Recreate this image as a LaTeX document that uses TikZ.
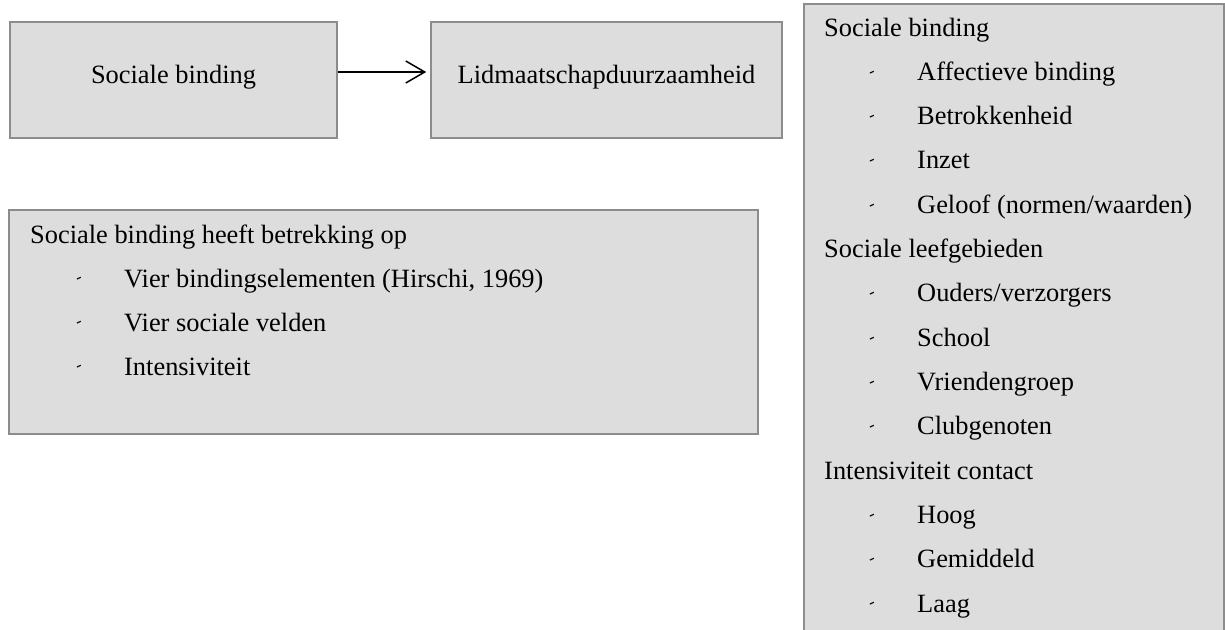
\documentclass[tikz,border=0pt]{standalone}
\usepackage{fontspec}
\setmainfont{Liberation Serif}
\usetikzlibrary{arrows.meta}
\definecolor{boxfill}{HTML}{DDDDDD}
\definecolor{boxline}{HTML}{8C8C8C}
\tikzset{
  box/.style={draw=boxline, fill=boxfill, line width=1.5pt, inner sep=0pt},
  boxtxt/.style={font=\fontsize{26.4}{30}\selectfont, text height=17pt, text depth=11pt},
  txt/.style={anchor=base west, inner sep=0pt, font=\fontsize{26.4}{30}\selectfont},
  bul/.style={anchor=base west, inner sep=0pt, font=\fontsize{17}{20}\selectfont, rotate=25},
  conn/.style={line width=1.5pt, -{Straight Barb[length=19pt,width=22pt,line width=1.5pt]}},
}
\begin{document}
\begin{tikzpicture}[x=1pt,y=-1pt]
\useasboundingbox (0,0) rectangle (1225,629);
\clip (0,0) rectangle (1225,629);
% top boxes
\node[box, boxtxt, minimum width=327pt, minimum height=116pt] (b1) at (173.5,80) {Sociale binding};
\node[box, boxtxt, minimum width=351pt, minimum height=116pt] (b2) at (606.5,80) {Lidmaatschapduurzaamheid};
\draw[conn, shorten >=4pt] ([yshift=8pt]b1.east) -- ([yshift=8pt]b2.west);
% left list box
\node[box, minimum width=749pt, minimum height=224pt] (b3) at (383.5,322) {};
\node[txt] (h3) at (30,243) {Sociale binding heeft betrekking op};
\node[bul] (d31) at (78,284) {-};
\node[txt] (i31) at (124,287) {Vier bindingselementen (Hirschi, 1969)};
\node[bul] (d32) at (78,328) {-};
\node[txt] (i32) at (124,331) {Vier sociale velden};
\node[bul] (d33) at (78,372) {-};
\node[txt] (i33) at (124,375) {Intensiviteit};
% right list box
\node[box, minimum width=420pt, minimum height=660pt] (b4) at (1014,334) {};
\node[txt] (h41) at (824,36.00) {Sociale binding};
\node[bul] (d41) at (871,77.31) {-};
\node[txt] (i41) at (917,80.31) {Affectieve binding};
\node[bul] (d42) at (871,121.62) {-};
\node[txt] (i42) at (917,124.62) {Betrokkenheid};
\node[bul] (d43) at (871,165.93) {-};
\node[txt] (i43) at (917,168.93) {Inzet};
\node[bul] (d44) at (871,210.24) {-};
\node[txt] (i44) at (917,213.24) {Geloof (normen/waarden)};
\node[txt] (h42) at (824,257.55) {Sociale leefgebieden};
\node[bul] (d45) at (871,298.86) {-};
\node[txt] (i45) at (917,301.86) {Ouders/verzorgers};
\node[bul] (d46) at (871,343.17) {-};
\node[txt] (i46) at (917,346.17) {School};
\node[bul] (d47) at (871,387.48) {-};
\node[txt] (i47) at (917,390.48) {Vriendengroep};
\node[bul] (d48) at (871,431.79) {-};
\node[txt] (i48) at (917,434.79) {Clubgenoten};
\node[txt] (h43) at (824,479.10) {Intensiviteit contact};
\node[bul] (d49) at (871,520.41) {-};
\node[txt] (i49) at (917,523.41) {Hoog};
\node[bul] (d410) at (871,564.72) {-};
\node[txt] (i410) at (917,567.72) {Gemiddeld};
\node[bul] (d411) at (871,609.03) {-};
\node[txt] (i411) at (917,612.03) {Laag};
\end{tikzpicture}
\end{document}
